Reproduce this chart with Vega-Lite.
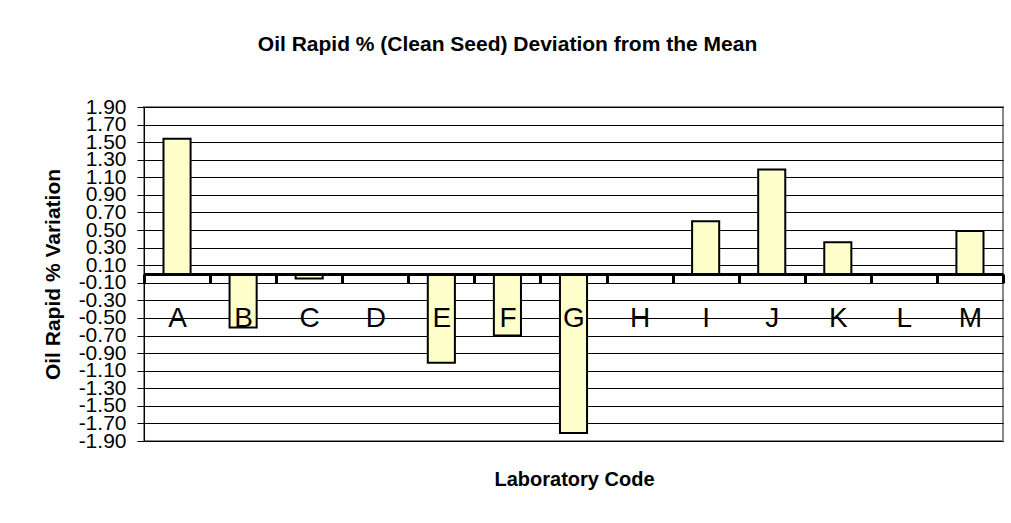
{
  "$schema": "https://vega.github.io/schema/vega-lite/v6.json",
  "autosize": {"type": "none"},
  "padding": {"left": 144, "top": 107, "right": 8, "bottom": 82},
  "width": 859,
  "height": 334,
  "background": "white",
  "title": {
    "text": "Oil Rapid % (Clean Seed) Deviation from the Mean",
    "fontSize": 21,
    "fontWeight": "bold",
    "color": "#000",
    "anchor": "middle",
    "frame": "group",
    "baseline": "alphabetic",
    "dx": -66,
    "offset": 24
  },
  "data": {
    "values": [
      {"lab": "A", "dev": 1.54},
      {"lab": "B", "dev": -0.61},
      {"lab": "C", "dev": -0.05},
      {"lab": "D", "dev": 0},
      {"lab": "E", "dev": -1.01},
      {"lab": "F", "dev": -0.70},
      {"lab": "G", "dev": -1.81},
      {"lab": "H", "dev": 0},
      {"lab": "I", "dev": 0.60},
      {"lab": "J", "dev": 1.19},
      {"lab": "K", "dev": 0.36},
      {"lab": "L", "dev": 0},
      {"lab": "M", "dev": 0.49}
    ]
  },
  "mark": {"type": "bar", "fill": "#FFFFCC", "stroke": "#000", "strokeWidth": 2, "width": {"band": 0.41}},
  "encoding": {
    "x": {
      "field": "lab",
      "type": "nominal",
      "sort": null,
      "scale": {"paddingInner": 0, "paddingOuter": 0},
      "axis": {
        "orient": "bottom",
        "offset": -167,
        "title": "Laboratory Code",
        "titleFontSize": 20,
        "titleFontWeight": "bold",
        "titleColor": "#000",
        "titleX": 430,
        "titleY": 205,
        "titleBaseline": "middle",
        "titleAlign": "center",
        "labelAngle": 0,
        "labelFontSize": 28,
        "labelPadding": 21,
        "labelColor": "#000",
        "domainColor": "#000",
        "domainWidth": 3,
        "tickBand": "extent",
        "tickSize": 9,
        "tickWidth": 3,
        "tickColor": "#000",
        "grid": false,
        "zindex": 1
      }
    },
    "y": {
      "field": "dev",
      "type": "quantitative",
      "scale": {"domain": [-1.9, 1.9], "nice": false, "zero": false},
      "axis": {
        "values": [-1.9, -1.7, -1.5, -1.3, -1.1, -0.9, -0.7, -0.5, -0.3, -0.1, 0.1, 0.3, 0.5, 0.7, 0.9, 1.1, 1.3, 1.5, 1.7, 1.9],
        "labelExpr": "replace(format(datum.value, '.2f'), '\u2212', '-')",
        "title": "Oil Rapid % Variation",
        "titleFontSize": 21,
        "titleFontWeight": "bold",
        "titleColor": "#000",
        "titleX": -91,
        "titleY": 167,
        "titleAngle": -90,
        "titleAlign": "center",
        "titleBaseline": "middle",
        "labelFontSize": 21,
        "labelPadding": 11,
        "labelColor": "#000",
        "labelOverlap": false,
        "labelBound": false,
        "labelFlush": false,
        "tickSize": 7,
        "tickColor": "#000",
        "domainColor": "#000",
        "grid": true,
        "gridColor": "#000",
        "zindex": 0
      }
    }
  },
  "config": {
    "font": "Liberation Sans",
    "view": {"stroke": "#888", "strokeWidth": 2}
  }
}
